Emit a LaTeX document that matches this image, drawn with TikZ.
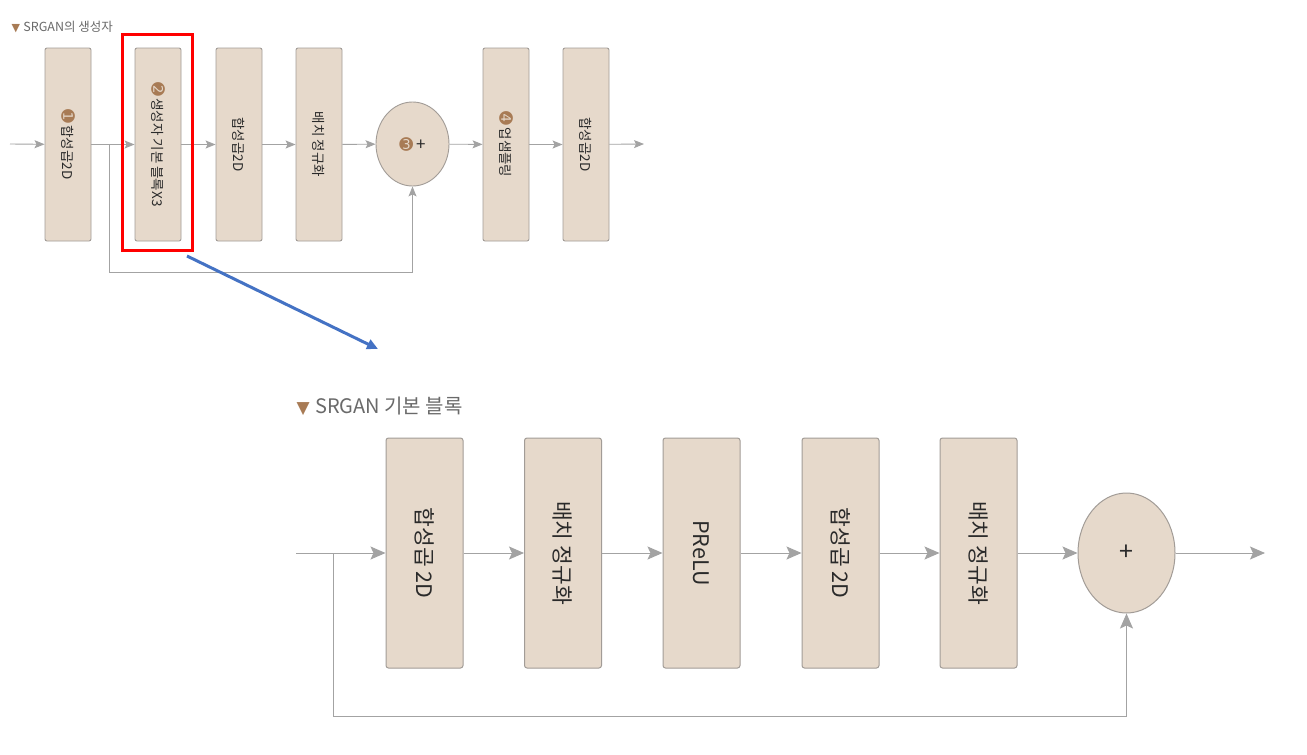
\documentclass[tikz,border=0pt]{standalone}
\usepackage{fontspec}
\setmainfont{Noto Sans CJK KR}
\newfontfamily\dv{DejaVu Sans}
\usetikzlibrary{arrows.meta,shapes.geometric}
\definecolor{boxfill}{HTML}{E6D9CB}
\definecolor{boxdraw}{HTML}{A29C97}
\definecolor{linegray}{HTML}{A3A3A3}
\definecolor{numbrown}{HTML}{A87B55}
\definecolor{txt}{HTML}{2A2A2A}
\definecolor{ttl}{HTML}{6A6A6A}
\definecolor{bluearr}{HTML}{4472C4}
\newcommand{\cn}[1]{{\dv\fontsize{16.5}{16.5}\selectfont\color{numbrown}#1}}
\tikzset{
  sbox/.style={draw=boxdraw,fill=boxfill,rounded corners=2pt,line width=0.9pt,rotate=-90,
    minimum width=193pt,minimum height=46pt,inner sep=0pt,text=txt,font=\fontsize{13.5}{13.5}\selectfont},
  bbox/.style={draw=boxdraw,fill=boxfill,rounded corners=2.5pt,line width=1pt,rotate=-90,
    minimum width=230pt,minimum height=77pt,inner sep=0pt,text=txt,font=\fontsize{21.5}{21.5}\selectfont},
  splus/.style={ellipse,draw=boxdraw,fill=boxfill,line width=0.9pt,minimum width=73pt,minimum height=84pt,inner sep=0pt,text=txt,font=\fontsize{17}{17}\selectfont},
  bplus/.style={ellipse,draw=boxdraw,fill=boxfill,line width=1pt,minimum width=97pt,minimum height=120pt,inner sep=0pt,text=txt,font=\fontsize{25}{25}\selectfont},
  sarr/.style={draw=linegray,line width=0.9pt,-{Stealth[length=10pt,width=8pt,inset=2pt]}},
  barr/.style={draw=linegray,line width=1pt,-{Stealth[length=15pt,width=13pt,inset=3pt]}},
}
\begin{document}
\begin{tikzpicture}[x=1pt,y=-1pt]
\useasboundingbox[fill=white] (0,0) rectangle (1307,755);
% ---------- top: SRGAN generator ----------
\node[anchor=west,text=ttl,font=\fontsize{12.5}{12.5}\selectfont] (t1) at (8,27) {{\dv\fontsize{11}{11}\selectfont\color{numbrown}▼}\;SRGAN의 생성자};
\node[sbox] (a1) at (68,144.5) {\cn{➊}\,합성곱2D};
\node[sbox] (a2) at (158,144.5) {\cn{➋}\,생성자 기본 블록X3};
\node[sbox] (a3) at (239,144.5) {합성곱2D};
\node[sbox] (a4) at (319,144.5) {배치 정규화};
\node[splus] (ap) at (412.5,144) {\cn{➌}\,+};
\node[sbox] (a5) at (506,144.5) {\cn{➍}\,업샘플링};
\node[sbox] (a6) at (586,144.5) {합성곱2D};
\coordinate (ain) at (10,144);
\coordinate (aout) at (644,144);
\coordinate (ask) at (109,144);
\coordinate (askd) at (109,272);
\draw[sarr] (ain) -- (a1);
\draw[sarr] (a1) -- (a2);
\draw[sarr] (a2) -- (a3);
\draw[sarr] (a3) -- (a4);
\draw[sarr] (a4) -- (ap);
\draw[sarr] (ap) -- (a5);
\draw[sarr] (a5) -- (a6);
\draw[sarr] (a6) -- (aout);
\draw[sarr] (ask) -- (askd) -| (ap);
% highlight
\node[draw=red,line width=3pt,minimum width=70pt,minimum height=216pt,inner sep=0pt] (hl) at (157,142) {};
\coordinate (bs) at (187,256);
\coordinate (be) at (378,349);
\draw[bluearr,line width=3pt,-{Triangle[length=11pt,width=10pt]}] (bs) -- (be);
% ---------- bottom: SRGAN basic block ----------
\node[anchor=west,text=ttl,font=\fontsize{20}{20}\selectfont] (t2) at (293,406) {{\dv\fontsize{17}{17}\selectfont\color{numbrown}▼}\;SRGAN 기본 블록};
\node[bbox] (b1) at (424.5,553) {합성곱 2D};
\node[bbox] (b2) at (563,553) {배치 정규화};
\node[bbox] (b3) at (701.5,553) {PReLU};
\node[bbox] (b4) at (840.5,553) {합성곱 2D};
\node[bbox] (b5) at (978.5,553) {배치 정규화};
\node[bplus] (bp) at (1126.5,553) {+};
\coordinate (bin) at (296,553);
\coordinate (bout) at (1265,553);
\coordinate (bsk) at (333,553);
\coordinate (bskd) at (333,716);
\draw[barr] (bin) -- (b1);
\draw[barr] (b1) -- (b2);
\draw[barr] (b2) -- (b3);
\draw[barr] (b3) -- (b4);
\draw[barr] (b4) -- (b5);
\draw[barr] (b5) -- (bp);
\draw[barr] (bp) -- (bout);
\draw[barr] (bsk) -- (bskd) -| (bp);
\end{tikzpicture}
\end{document}
